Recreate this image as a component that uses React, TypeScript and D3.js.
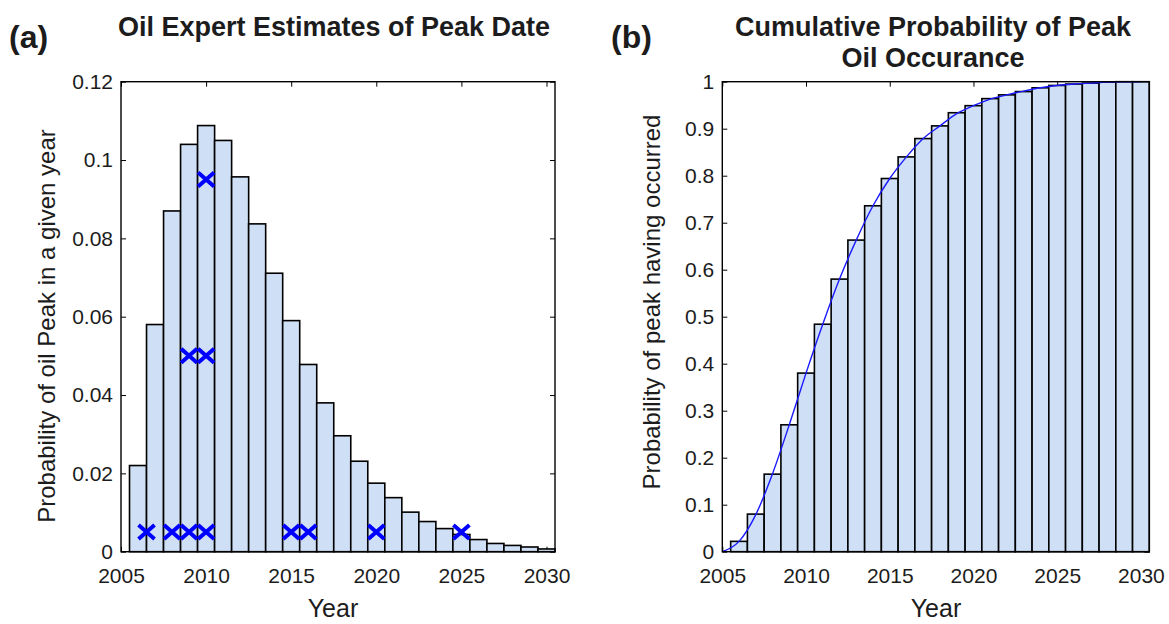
import React, { useEffect, useRef } from 'react';
import * as d3 from 'd3';

// yearly bins (bar centres)
const years = [2006, 2007, 2008, 2009, 2010, 2011, 2012, 2013, 2014, 2015, 2016, 2017, 2018,
    2019, 2020, 2021, 2022, 2023, 2024, 2025, 2026, 2027, 2028, 2029, 2030];

// (a) probability of the peak in a given year
const peakProb = [0.022, 0.058, 0.087, 0.104, 0.1088, 0.105, 0.0957, 0.0837, 0.0711, 0.059, 0.0478,
    0.038, 0.0296, 0.0231, 0.0175, 0.0138, 0.0101, 0.0077, 0.0059, 0.0044, 0.0031, 0.0021,
    0.0016, 0.0012, 0.0007];

// expert estimates (crosses)
const expertYears = [2006.5, 2008, 2009, 2010, 2015, 2016, 2020, 2025, 2009, 2010, 2010];
const expertProb = [0.005, 0.005, 0.005, 0.005, 0.005, 0.005, 0.005, 0.005, 0.05, 0.05, 0.095];

// (b) cumulative probability bars
const cumProb = [0.022, 0.08, 0.165, 0.27, 0.38, 0.484, 0.58, 0.663, 0.736, 0.794, 0.84, 0.879,
    0.906, 0.934, 0.949, 0.964, 0.972, 0.979, 0.987, 0.992, 0.995, 0.997, 0.999, 1.0, 1.0];

// (b) smooth cumulative curve
const curveYears = [2005, 2006, 2007, 2008, 2009, 2010, 2011, 2012, 2013, 2014, 2015, 2016, 2017,
    2018, 2019, 2020, 2021, 2022, 2023, 2024, 2025, 2026, 2027, 2028, 2029, 2030];
const curveProb = [0, 0.022, 0.079, 0.166, 0.27, 0.38, 0.484, 0.58, 0.663, 0.736, 0.794, 0.84,
    0.879, 0.906, 0.932, 0.949, 0.963, 0.972, 0.98, 0.987, 0.992, 0.995, 0.997, 0.999, 1.0, 1.0];

const xTicks = [2005, 2010, 2015, 2020, 2025, 2030];
const leftYTicks = [0, 0.02, 0.04, 0.06, 0.08, 0.1, 0.12];
const rightYTicks = [0, 0.1, 0.2, 0.3, 0.4, 0.5, 0.6, 0.7, 0.8, 0.9, 1];

const W = 1169;
const H = 624;
const FONT = '"Liberation Sans", Arial, sans-serif';
const TEXT = '#1c1c1c';
const BAR_FILL = '#cfdff5';
const TOP = 81.7;
const BOTTOM = 551.7;

const fmt = v => String(+v.toFixed(2));

const drawFrame = (g, x, y, yTicks) => {
    const [x0, x1] = x.range();

    g.append('g')
        .attr('transform', `translate(${x0},0)`)
        .call(d3.axisLeft(y).tickValues(yTicks).tickSize(-5).tickPadding(8).tickFormat(fmt));
    g.append('g')
        .attr('transform', `translate(${x1},0)`)
        .call(d3.axisRight(y).tickValues(yTicks).tickSize(-5).tickFormat(() => ''));
    g.append('g')
        .attr('transform', `translate(0,${TOP})`)
        .call(d3.axisTop(x).tickValues(xTicks).tickSize(-5).tickFormat(() => ''));
    g.append('g')
        .attr('transform', `translate(0,${BOTTOM})`)
        .call(d3.axisBottom(x).tickValues(xTicks).tickSize(-5).tickPadding(16).tickFormat(d => d));

    g.selectAll('.domain').remove();
    g.selectAll('.tick line').attr('stroke', '#000').attr('stroke-width', 1);
    g.selectAll('.tick text')
        .attr('font-family', FONT)
        .attr('font-size', 21)
        .attr('fill', TEXT);
};

const drawBars = (g, x, y, values) => {
    g.selectAll('rect.bar')
        .data(values)
        .enter()
        .append('rect')
        .attr('class', 'bar')
        .attr('x', (d, i) => x(years[i] - 0.5))
        .attr('width', (d, i) => x(years[i] + 0.5) - x(years[i] - 0.5))
        .attr('y', d => y(d))
        .attr('height', d => y(0) - y(d))
        .attr('fill', BAR_FILL)
        .attr('stroke', '#000')
        .attr('stroke-width', 1.6);
};

const App = () => {
    const svgRef = useRef(null);

    useEffect(() => {
        const svg = d3.select(svgRef.current);
        svg.selectAll('*').remove();

        // ---------- panel (a) ----------
        const xa = d3.scaleLinear().domain([2005, 2030.5]).range([121, 555]);
        const ya = d3.scaleLinear().domain([0, 0.12]).range([BOTTOM, TOP]);
        const ga = svg.append('g');

        drawFrame(ga, xa, ya, leftYTicks);
        drawBars(ga, xa, ya, peakProb);

        ga.selectAll('path.cross')
            .data(expertYears)
            .enter()
            .append('path')
            .attr('class', 'cross')
            .attr('d', (d, i) => {
                const cx = xa(d);
                const cy = ya(expertProb[i]);
                return `M${cx - 8},${cy - 7}L${cx + 8},${cy + 7}M${cx - 8},${cy + 7}L${cx + 8},${cy - 7}`;
            })
            .attr('fill', 'none')
            .attr('stroke', '#0000ff')
            .attr('stroke-width', 4);

        ga.append('rect')
            .attr('x', 121).attr('y', TOP)
            .attr('width', 555 - 121).attr('height', BOTTOM - TOP)
            .attr('fill', 'none').attr('stroke', '#000').attr('stroke-width', 1.4);

        // ---------- panel (b) ----------
        const xb = d3.scaleLinear().domain([2005, 2030.5]).range([722.3, 1149.3]);
        const yb = d3.scaleLinear().domain([0, 1]).range([BOTTOM, TOP]);
        const gb = svg.append('g');

        drawFrame(gb, xb, yb, rightYTicks);
        drawBars(gb, xb, yb, cumProb);

        const line = d3.line()
            .x((d, i) => xb(curveYears[i]))
            .y(d => yb(d))
            .curve(d3.curveMonotoneX);

        gb.append('path')
            .datum(curveProb)
            .attr('d', line)
            .attr('fill', 'none')
            .attr('stroke', '#1a1aff')
            .attr('stroke-width', 1.4);

        gb.append('rect')
            .attr('x', 722.3).attr('y', TOP)
            .attr('width', 1149.3 - 722.3).attr('height', BOTTOM - TOP)
            .attr('fill', 'none').attr('stroke', '#000').attr('stroke-width', 1.4);

        // ---------- texts ----------
        const text = (x, y, str, size, opts = {}) => svg.append('text')
            .attr('x', x).attr('y', y)
            .attr('font-family', FONT)
            .attr('font-size', size)
            .attr('font-weight', opts.bold ? 'bold' : 'normal')
            .attr('text-anchor', opts.anchor || 'middle')
            .attr('fill', TEXT)
            .attr('transform', opts.rotate ? `rotate(-90,${x},${y})` : null)
            .text(str);

        text(9, 48, '(a)', 32, { bold: true, anchor: 'start' });
        text(334, 36, 'Oil Expert Estimates of Peak Date', 27, { bold: true });
        text(611, 48, '(b)', 32, { bold: true, anchor: 'start' });
        text(933, 36, 'Cumulative Probability of Peak', 27, { bold: true });
        text(933, 67, 'Oil Occurance', 27, { bold: true });

        text(333, 617, 'Year', 25);
        text(936, 617, 'Year', 25);
        text(55, 326, 'Probability of oil Peak in a given year', 24, { rotate: true });
        text(660, 302, 'Probability of peak having occurred', 24, { rotate: true });
    }, []);

    return (
        <svg ref={svgRef} width={W} height={H}
            style={{ position: 'absolute', left: 0, top: 0, background: '#fff' }} />
    );
};

export default App;
